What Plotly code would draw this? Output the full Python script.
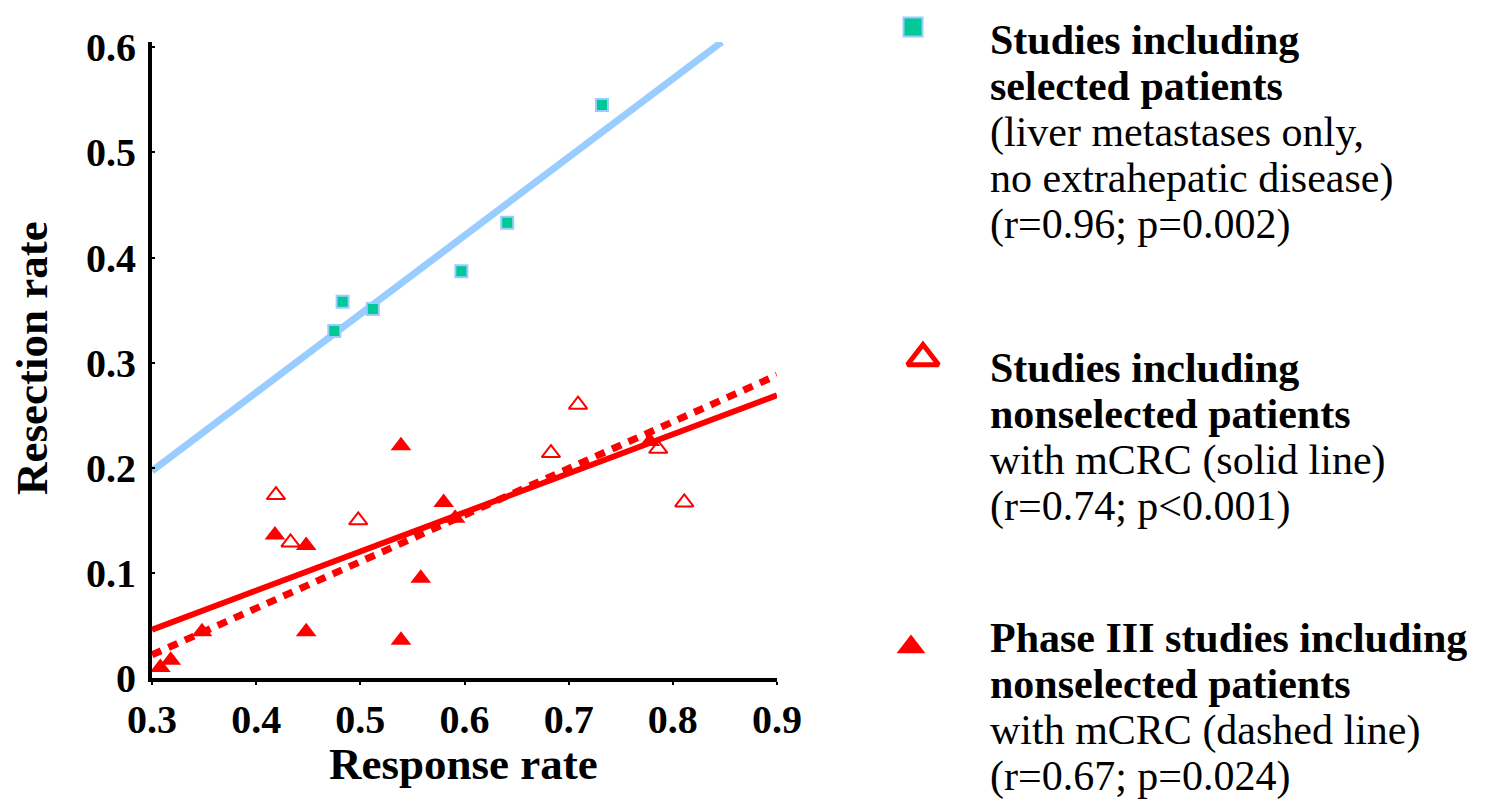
import plotly.graph_objects as go

W, H = 1491, 810

# ---------------- data ----------------
selected_x = [0.475, 0.483, 0.512, 0.597, 0.641, 0.732]
selected_y = [0.330, 0.358, 0.351, 0.387, 0.433, 0.545]

nonsel_open_x = [0.419, 0.433, 0.498, 0.683, 0.709, 0.786, 0.811]
nonsel_open_y = [0.174, 0.129, 0.150, 0.214, 0.260, 0.218, 0.167]

phase3_x = [0.308, 0.318, 0.348, 0.418, 0.448, 0.448, 0.539, 0.539, 0.558, 0.580, 0.591, 0.778]
phase3_y = [0.010, 0.017, 0.044, 0.136, 0.126, 0.044, 0.221, 0.036, 0.095, 0.167, 0.152, 0.225]

# regression lines (end points)
selected_fit_x = [0.300, 0.847]
selected_fit_y = [0.197, 0.605]
nonsel_fit_x = [0.300, 0.900]
nonsel_fit_y = [0.046, 0.269]
phase3_fit_x = [0.300, 0.900]
phase3_fit_y = [0.022, 0.288]

x_ticks = [0.3, 0.4, 0.5, 0.6, 0.7, 0.8, 0.9]
x_tick_labels = ["0.3", "0.4", "0.5", "0.6", "0.7", "0.8", "0.9"]
y_ticks = [0, 0.1, 0.2, 0.3, 0.4, 0.5, 0.6]
y_tick_labels = ["0", "0.1", "0.2", "0.3", "0.4", "0.5", "0.6"]

legend_blocks = [
    ["<b>Studies including</b>", "<b>selected patients</b>",
     "(liver metastases only,", "no extrahepatic disease)", "(r=0.96; p=0.002)"],
    ["<b>Studies including</b>", "<b>nonselected patients</b>",
     "with mCRC (solid line)", "(r=0.74; p&lt;0.001)"],
    ["<b>Phase III studies including</b>", "<b>nonselected patients</b>",
     "with mCRC (dashed line)", "(r=0.67; p=0.024)"],
]

# ---------------- styling ----------------
RED = "#FF0000"
BLUE = "#99CCFF"
GREEN = "#00C896"
FONT = "Liberation Serif"

# plot area in pixels
PL, PR, PT, PB = 152, 777, 42, 678

fig = go.Figure()

# fit lines
fig.add_trace(go.Scatter(x=selected_fit_x, y=selected_fit_y, mode="lines",
                         line=dict(color=BLUE, width=7), showlegend=False, hoverinfo="skip"))
fig.add_trace(go.Scatter(x=nonsel_fit_x, y=nonsel_fit_y, mode="lines",
                         line=dict(color=RED, width=6), showlegend=False, hoverinfo="skip"))
fig.add_trace(go.Scatter(x=phase3_fit_x, y=phase3_fit_y, mode="lines",
                         line=dict(color=RED, width=7, dash="10px,8px"), showlegend=False,
                         hoverinfo="skip"))

# points
fig.add_trace(go.Scatter(x=selected_x, y=selected_y, mode="markers",
                         marker=dict(symbol="square", size=12, color=GREEN,
                                     line=dict(color=BLUE, width=2)),
                         showlegend=False, cliponaxis=False))
fig.add_trace(go.Scatter(x=nonsel_open_x, y=nonsel_open_y, mode="markers",
                         marker=dict(symbol="triangle-up-open", size=16, color=RED,
                                     line=dict(color=RED, width=2)),
                         showlegend=False, cliponaxis=False))
fig.add_trace(go.Scatter(x=phase3_x, y=phase3_y, mode="markers",
                         marker=dict(symbol="triangle-up", size=18, color=RED,
                                     line=dict(width=0)),
                         showlegend=False, cliponaxis=False))

# legend keys on a hidden pixel-coordinate axis covering the whole figure
key_x = [913, 923, 911]
key_y = [27, 358, 647]
fig.add_trace(go.Scatter(x=[key_x[0]], y=[key_y[0]], xaxis="x2", yaxis="y2", mode="markers",
                         marker=dict(symbol="square", size=19, color=GREEN,
                                     line=dict(color=BLUE, width=2)),
                         showlegend=False, hoverinfo="skip", cliponaxis=False))
fig.add_trace(go.Scatter(x=[key_x[1]], y=[key_y[1]], xaxis="x2", yaxis="y2", mode="markers",
                         marker=dict(symbol="triangle-up-open", size=27, color=RED,
                                     line=dict(color=RED, width=5)),
                         showlegend=False, hoverinfo="skip", cliponaxis=False))
fig.add_trace(go.Scatter(x=[key_x[2]], y=[key_y[2]], xaxis="x2", yaxis="y2", mode="markers",
                         marker=dict(symbol="triangle-up", size=25, color=RED, line=dict(width=0)),
                         showlegend=False, hoverinfo="skip", cliponaxis=False))

annotations = []
# legend text
block_tops = [40, 368, 638]
LINE_STEP = 46
for top, lines in zip(block_tops, legend_blocks):
    for i, t in enumerate(lines):
        annotations.append(dict(
            x=988 / W, y=1 - (top + i * LINE_STEP) / H, xref="paper", yref="paper",
            xanchor="left", yanchor="middle", showarrow=False, text=t,
            font=dict(family=FONT, size=42, color="black")))

# axis titles
annotations.append(dict(x=463 / W, y=1 - 764 / H, xref="paper", yref="paper",
                        xanchor="center", yanchor="middle", showarrow=False,
                        text="<b>Response rate</b>",
                        font=dict(family=FONT, size=45, color="black")))
annotations.append(dict(x=32 / W, y=1 - 358 / H, xref="paper", yref="paper",
                        xanchor="center", yanchor="middle", showarrow=False,
                        text="<b>Resection rate</b>", textangle=-90,
                        font=dict(family=FONT, size=45, color="black")))

axis_common = dict(showgrid=False, zeroline=False, showline=True, linecolor="black",
                   linewidth=4, ticklen=3, tickwidth=2, tickcolor="black",
                   automargin=False,
                   tickfont=dict(family=FONT, size=40, color="black", weight="bold"))

fig.update_layout(
    width=W, height=H, autosize=False,
    margin=dict(l=0, r=0, t=0, b=0, pad=0, autoexpand=False),
    paper_bgcolor="white", plot_bgcolor="rgba(0,0,0,0)",
    hovermode=False,
    xaxis=dict(domain=[PL / W, PR / W], range=[0.3, 0.9], tickvals=x_ticks,
               ticktext=x_tick_labels, ticks="outside", ticklabelstandoff=0,
               anchor="y", **axis_common),
    yaxis=dict(domain=[1 - PB / H, 1 - PT / H], range=[0, 0.605], tickvals=y_ticks,
               ticktext=y_tick_labels, ticks="inside", ticklabelstandoff=4,
               anchor="x", **axis_common),
    xaxis2=dict(domain=[0, 1], range=[0, W], visible=False, anchor="y2", automargin=False),
    yaxis2=dict(domain=[0, 1], range=[H, 0], visible=False, anchor="x2", automargin=False),
    annotations=annotations,
    showlegend=False,
)

fig.write_html("out.html")
